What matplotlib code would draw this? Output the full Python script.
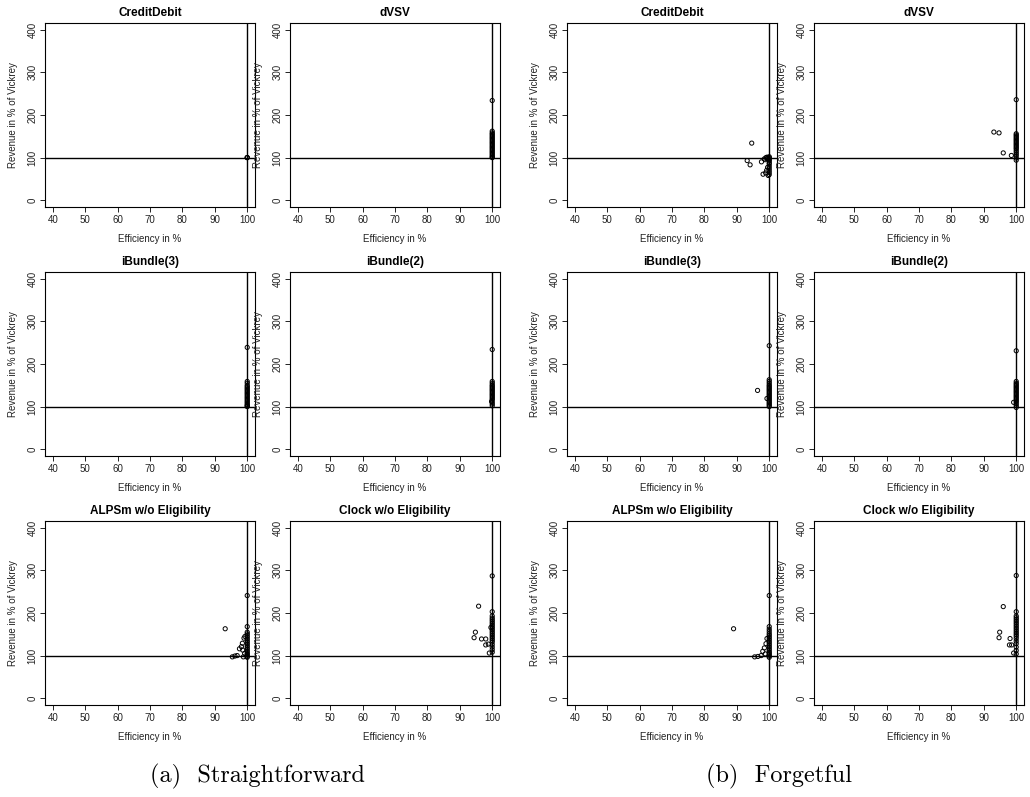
import matplotlib
matplotlib.use("Agg")
import matplotlib.pyplot as plt

plt.rcParams['font.family'] = ['Liberation Sans', 'DejaVu Sans']

# efficiency (x) and revenue (y), both in %, one pair of lists per auction format

# (a) Straightforward bidders
sf_credit_x = [100, 100, 100]
sf_credit_y = [100, 100, 100]

sf_dvsv_x = [100, 100, 100, 100, 100, 100, 100, 100, 100, 100, 100, 100,
             100, 100, 100, 100, 100, 100, 100, 100, 100, 100, 100]
sf_dvsv_y = [234, 162, 158, 155, 152, 149, 146, 143, 140, 137, 134, 131,
             128, 125, 122, 119, 116, 113, 110, 107, 104, 101, 100]

sf_ib3_x = [100, 100, 100, 100, 100, 100, 100, 100, 100, 100, 100, 100,
            100, 100, 100, 100, 100, 100, 100, 100, 100, 100]
sf_ib3_y = [239, 159, 155, 150, 147, 144, 141, 138, 135, 132, 129, 126,
            123, 120, 117, 114, 111, 108, 105, 103, 101, 100]

sf_ib2_x = [100, 100, 100, 100, 100, 100, 100, 100, 100, 100, 100, 100,
            100, 100, 100, 100, 100, 100, 100, 99.8]
sf_ib2_y = [234, 159, 155, 151, 148, 145, 142, 139, 136, 133, 130, 127,
            124, 121, 118, 115, 110, 106, 102, 112]

sf_alps_x = [100, 93.2, 100, 99.3, 99.0, 98.5, 98.2, 97.6, 98.6, 96.9,
             95.4, 96.2, 99.2, 98.8, 100, 100, 100, 100, 100, 100, 100,
             100, 100, 100, 100, 100, 100, 100, 100, 100, 100]
sf_alps_y = [241, 163, 168, 145, 141, 129, 121, 116, 113, 100,
             97, 99, 105, 97, 155, 151, 147, 143, 139, 135, 131,
             127, 123, 119, 115, 111, 107, 104, 101, 98, 96]

sf_clock_x = [100, 95.8, 100, 94.8, 94.4, 96.7, 98.0, 98.0, 98.8, 99.6,
              99.1, 100, 100, 100, 100, 100, 100, 100, 100, 100, 100,
              100, 100, 100, 100, 100, 100, 100, 100, 100, 100]
sf_clock_y = [287, 216, 203, 155, 142, 139, 139, 125, 127, 166,
              106, 193, 188, 184, 180, 176, 172, 168, 164, 160, 156,
              152, 148, 144, 140, 136, 132, 126, 120, 114, 108]

# (b) Forgetful bidders
fg_credit_x = [94.6, 93.2, 94.1, 97.6, 98.7, 98.1, 98.9, 99.2, 99.7, 99.5,
               99.0, 99.4, 99.8, 98.5, 99.3, 100, 100, 100, 100, 100, 100,
               100, 100, 100, 100, 100, 100]
fg_credit_y = [134, 93, 83, 90, 95, 61, 64, 70, 58, 77,
               100, 98, 96, 97, 101, 102, 100, 98, 95, 92, 88,
               85, 80, 75, 70, 65, 60]

fg_dvsv_x = [100, 93.1, 94.7, 96.0, 98.5, 100, 100, 100, 100, 100, 100,
             100, 100, 100, 100, 100, 100, 100, 100, 100, 100, 100, 100, 100]
fg_dvsv_y = [236, 160, 158, 111, 105, 156, 153, 150, 147, 144, 141,
             138, 135, 132, 129, 126, 123, 120, 116, 112, 108, 104, 99, 94]

fg_ib3_x = [100, 96.4, 99.3, 100, 100, 100, 100, 100, 100, 100, 100, 100,
            100, 100, 100, 100, 100, 100, 100, 100, 100, 100, 100, 100]
fg_ib3_y = [243, 138, 119, 163, 159, 155, 151, 148, 145, 142, 139, 136,
            133, 130, 127, 124, 121, 118, 115, 112, 109, 106, 103, 100]

fg_ib2_x = [100, 99.2, 100, 100, 100, 100, 100, 100, 100, 100, 100, 100,
            100, 100, 100, 100, 100, 100, 100, 100, 100, 100]
fg_ib2_y = [231, 110, 159, 155, 152, 149, 146, 143, 140, 137, 134, 131,
            128, 125, 122, 119, 116, 113, 110, 106, 102, 98]

fg_alps_x = [100, 89.0, 100, 95.5, 96.5, 97.5, 98.0, 98.5, 99.0, 99.3,
             98.8, 100, 100, 100, 100, 100, 100, 100, 100, 100, 100, 100,
             100, 100, 100, 100, 100, 100, 100]
fg_alps_y = [241, 163, 168, 97, 98, 100, 110, 118, 128, 140,
             104, 162, 157, 152, 148, 144, 140, 136, 132, 128, 124, 120,
             116, 112, 108, 105, 102, 99, 96]

fg_clock_x = [100, 96.0, 100, 94.9, 94.7, 98.1, 97.9, 98.6, 99.2, 100,
              100, 100, 100, 100, 100, 100, 100, 100, 100, 100, 100, 100,
              100, 100, 100, 100, 100, 100]
fg_clock_y = [288, 215, 203, 155, 142, 140, 125, 125, 106, 193,
              189, 185, 181, 177, 173, 169, 165, 161, 157, 153, 149, 145,
              140, 134, 128, 120, 112, 104]

panels = [
    (0, 0, 'CreditDebit', sf_credit_x, sf_credit_y),
    (1, 0, 'dVSV', sf_dvsv_x, sf_dvsv_y),
    (0, 1, 'iBundle(3)', sf_ib3_x, sf_ib3_y),
    (1, 1, 'iBundle(2)', sf_ib2_x, sf_ib2_y),
    (0, 2, 'ALPSm w/o Eligibility', sf_alps_x, sf_alps_y),
    (1, 2, 'Clock w/o Eligibility', sf_clock_x, sf_clock_y),
    (2, 0, 'CreditDebit', fg_credit_x, fg_credit_y),
    (3, 0, 'dVSV', fg_dvsv_x, fg_dvsv_y),
    (2, 1, 'iBundle(3)', fg_ib3_x, fg_ib3_y),
    (3, 1, 'iBundle(2)', fg_ib2_x, fg_ib2_y),
    (2, 2, 'ALPSm w/o Eligibility', fg_alps_x, fg_alps_y),
    (3, 2, 'Clock w/o Eligibility', fg_clock_x, fg_clock_y),
]

FW, FH = 1030, 797
col_left = [45, 290, 567, 814]
row_top = [23, 272, 521]
pw, ph = 210, 184

fig = plt.figure(figsize=(FW / 100, FH / 100), dpi=100)

for col, row, title, x, y in panels:
    ax = fig.add_axes([col_left[col] / FW, 1 - (row_top[row] + ph) / FH,
                       pw / FW, ph / FH])
    ax.axvline(100, color='black', lw=1.0, zorder=1)
    ax.axhline(100, color='black', lw=1.0, zorder=1)
    ax.scatter(x, y, s=9, facecolors='none', edgecolors='black',
               linewidths=0.7, zorder=2)
    # R-style 4% padding around 40..100 and 0..400
    ax.set_xlim(37.6, 102.4)
    ax.set_ylim(-16, 416)
    ax.set_xticks(range(40, 101, 10))
    ax.set_yticks(range(0, 401, 100))
    ax.tick_params(direction='out', length=3.5, width=0.7, labelsize=7,
                   pad=2, colors='#222222')
    ax.tick_params(axis='y', labelrotation=90)
    plt.setp(ax.get_yticklabels(), va='center')
    for s in ax.spines.values():
        s.set_linewidth(0.8)
    ax.set_title(title, fontsize=8.5, fontweight='bold', pad=5)
    ax.set_xlabel('Efficiency in %', fontsize=7, labelpad=7, color='#222222')
    ax.set_ylabel('Revenue in % of Vickrey', fontsize=7, labelpad=7,
                  color='#222222')

fig.text(257 / FW, 1 - 776 / FH, '(a)  Straightforward', family='cmr10',
         fontsize=17.5, ha='center', va='center')
fig.text(779 / FW, 1 - 776 / FH, '(b)  Forgetful', family='cmr10',
         fontsize=17.5, ha='center', va='center')

fig.savefig('out.png', dpi=100)
